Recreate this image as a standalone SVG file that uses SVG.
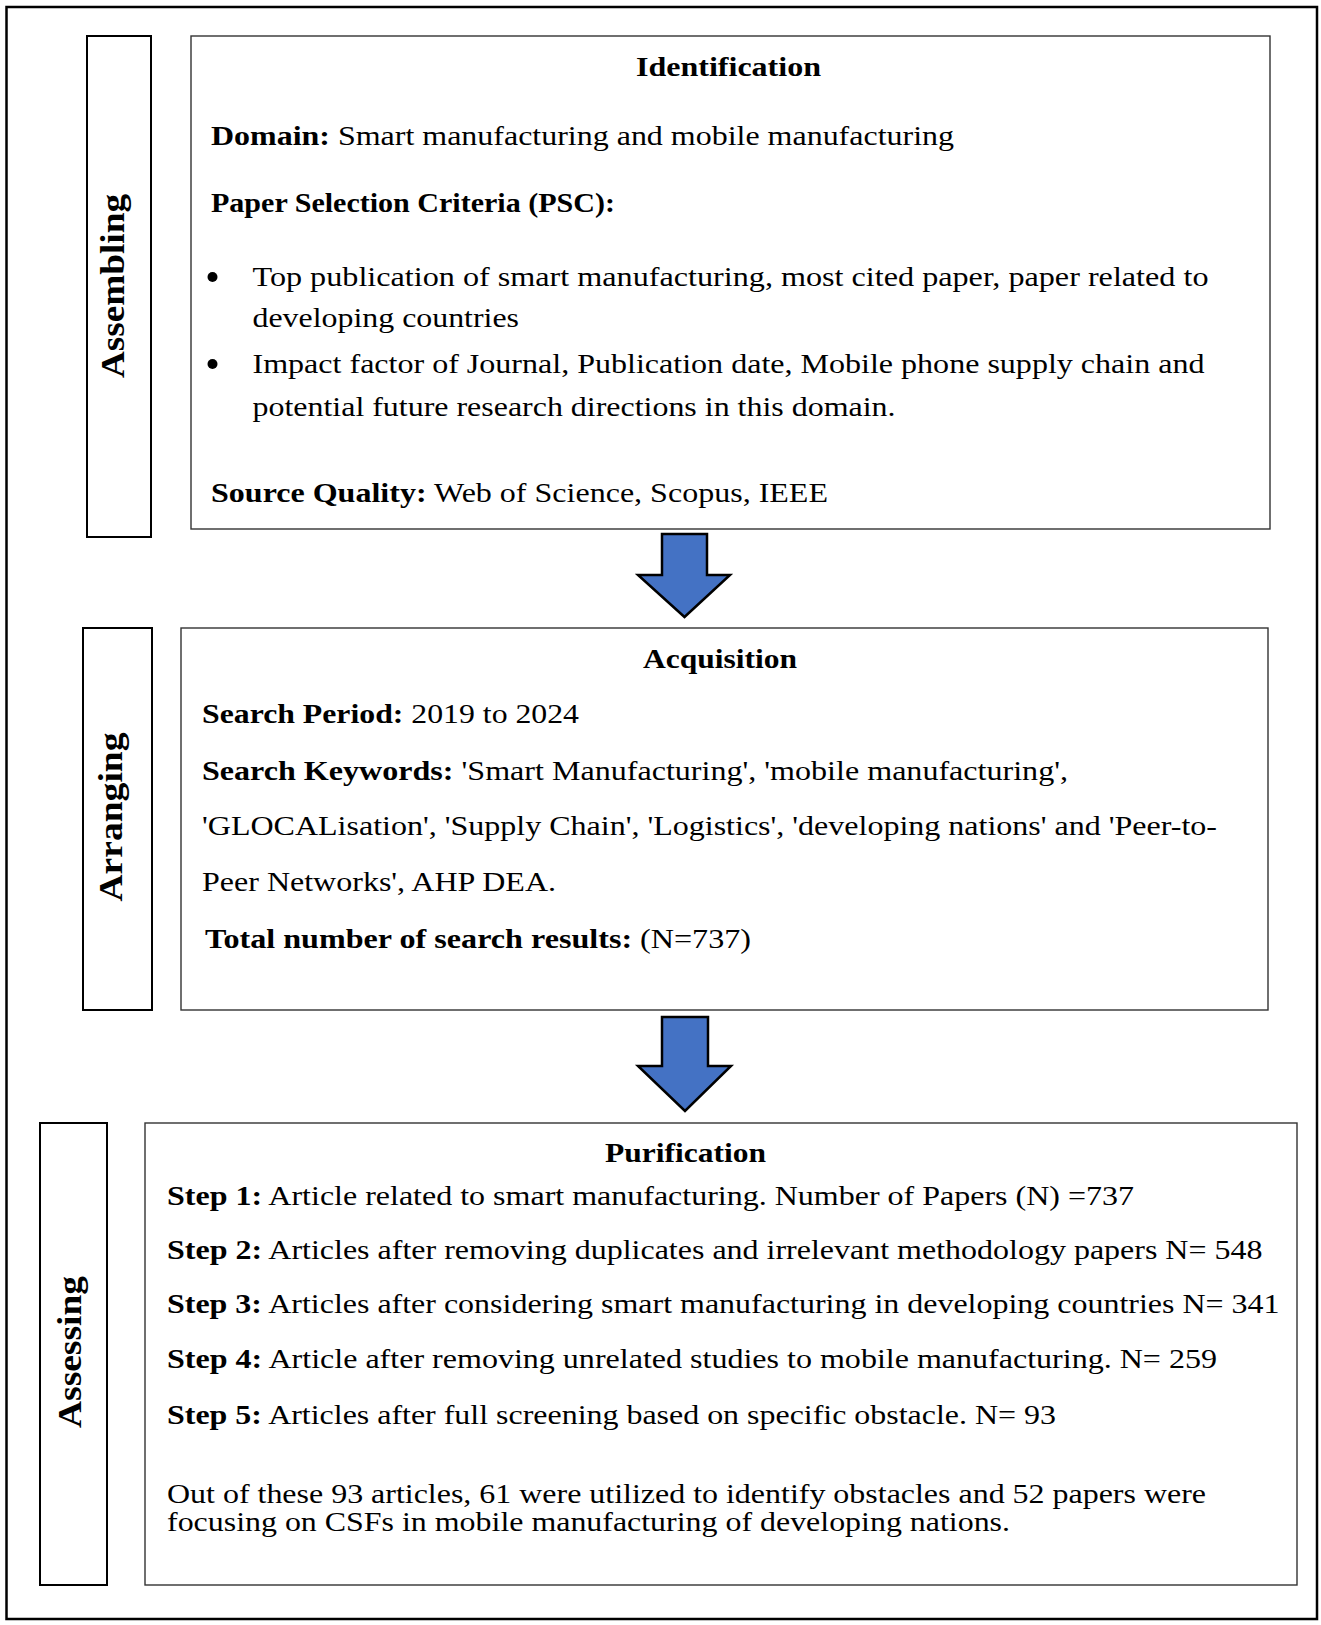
<svg xmlns="http://www.w3.org/2000/svg" width="1321" height="1625" viewBox="0 0 1321 1625">
<style>
text{font-family:"Liberation Serif","Times New Roman",serif;font-size:28px;fill:#000}
.b{font-weight:bold}
.t{font-weight:bold;text-anchor:middle}
.side{font-weight:bold;text-anchor:middle;font-size:34px}
.lab{fill:#fff;stroke:#000;stroke-width:2}
.box{fill:#fff;stroke:#333;stroke-width:1.4}
.arrow{fill:#4472C4;stroke:#000;stroke-width:2.5;stroke-linejoin:miter}
</style>
<rect x="0" y="0" width="1321" height="1625" fill="#fff"/>
<rect id="frame" x="6.5" y="7" width="1310.5" height="1612" fill="none" stroke="#000" stroke-width="2.5"/>

<g id="assembling">
<rect class="lab" x="87" y="36" width="64" height="501"/>
<text class="side" transform="translate(124,286) rotate(-90)" textLength="184" lengthAdjust="spacingAndGlyphs">Assembling</text>
</g>

<g id="identification">
<rect class="box" x="191" y="36" width="1079" height="493"/>
<text class="t" x="728.5" y="76" textLength="185" lengthAdjust="spacingAndGlyphs">Identification</text>
<text x="211" y="145" textLength="743" lengthAdjust="spacingAndGlyphs"><tspan class="b">Domain:</tspan> Smart manufacturing and mobile manufacturing</text>
<text class="b" x="211" y="212" textLength="404" lengthAdjust="spacingAndGlyphs">Paper Selection Criteria (PSC):</text>
<circle cx="212.5" cy="277" r="5"/>
<text x="252.5" y="286" textLength="956" lengthAdjust="spacingAndGlyphs">Top publication of smart manufacturing, most cited paper, paper related to</text>
<text x="252.5" y="327" textLength="266.5" lengthAdjust="spacingAndGlyphs">developing countries</text>
<circle cx="212.5" cy="364" r="5"/>
<text x="252.5" y="373" textLength="952" lengthAdjust="spacingAndGlyphs">Impact factor of Journal, Publication date, Mobile phone supply chain and</text>
<text x="252.5" y="416" textLength="643" lengthAdjust="spacingAndGlyphs">potential future research directions in this domain.</text>
<text x="211" y="502" textLength="617" lengthAdjust="spacingAndGlyphs"><tspan class="b">Source Quality:</tspan> Web of Science, Scopus, IEEE</text>
</g>

<g id="arranging">
<rect class="lab" x="83" y="628" width="69" height="382"/>
<text class="side" transform="translate(122,817) rotate(-90)" textLength="169" lengthAdjust="spacingAndGlyphs">Arranging</text>
</g>

<g id="acquisition">
<rect class="box" x="181" y="628" width="1087" height="382"/>
<text class="t" x="720" y="668" textLength="154" lengthAdjust="spacingAndGlyphs">Acquisition</text>
<text x="202" y="723" textLength="377" lengthAdjust="spacingAndGlyphs"><tspan class="b">Search Period:</tspan> 2019 to 2024</text>
<text x="202" y="780" textLength="866" lengthAdjust="spacingAndGlyphs"><tspan class="b">Search Keywords:</tspan> 'Smart Manufacturing', 'mobile manufacturing',</text>
<text x="202" y="835" textLength="1015" lengthAdjust="spacingAndGlyphs">'GLOCALisation', 'Supply Chain', 'Logistics', 'developing nations' and 'Peer-to-</text>
<text x="202" y="891" textLength="354" lengthAdjust="spacingAndGlyphs">Peer Networks', AHP DEA.</text>
<text x="205" y="948" textLength="546" lengthAdjust="spacingAndGlyphs"><tspan class="b">Total number of search results:</tspan> (N=737)</text>
</g>

<g id="assessing">
<rect class="lab" x="40" y="1123" width="67" height="462"/>
<text class="side" transform="translate(81,1352) rotate(-90)" textLength="152" lengthAdjust="spacingAndGlyphs">Assessing</text>
</g>

<g id="purification">
<rect class="box" x="145" y="1123" width="1152" height="462"/>
<text class="t" x="685.5" y="1162" textLength="161" lengthAdjust="spacingAndGlyphs">Purification</text>
<text x="167" y="1205" textLength="967" lengthAdjust="spacingAndGlyphs"><tspan class="b">Step 1:</tspan> Article related to smart manufacturing. Number of Papers (N) =737</text>
<text x="167" y="1259" textLength="1095.5" lengthAdjust="spacingAndGlyphs"><tspan class="b">Step 2:</tspan> Articles after removing duplicates and irrelevant methodology papers N= 548</text>
<text x="167" y="1313" textLength="1112.5" lengthAdjust="spacingAndGlyphs"><tspan class="b">Step 3:</tspan> Articles after considering smart manufacturing in developing countries N= 341</text>
<text x="167" y="1368" textLength="1050" lengthAdjust="spacingAndGlyphs"><tspan class="b">Step 4:</tspan> Article after removing unrelated studies to mobile manufacturing. N= 259</text>
<text x="167" y="1424" textLength="889" lengthAdjust="spacingAndGlyphs"><tspan class="b">Step 5:</tspan> Articles after full screening based on specific obstacle. N= 93</text>
<text x="167" y="1503" textLength="1039" lengthAdjust="spacingAndGlyphs">Out of these 93 articles, 61 were utilized to identify obstacles and 52 papers were</text>
<text x="167" y="1531" textLength="843" lengthAdjust="spacingAndGlyphs">focusing on CSFs in mobile manufacturing of developing nations.</text>
</g>

<g id="connectors">
<path class="arrow" d="M662,534 H707 V575 H730 L684.5,617 L638,575 H662 Z"/>
<path class="arrow" d="M662,1017 H708 V1066 H731 L685,1111 L638,1066 H662 Z"/>
</g>
</svg>
